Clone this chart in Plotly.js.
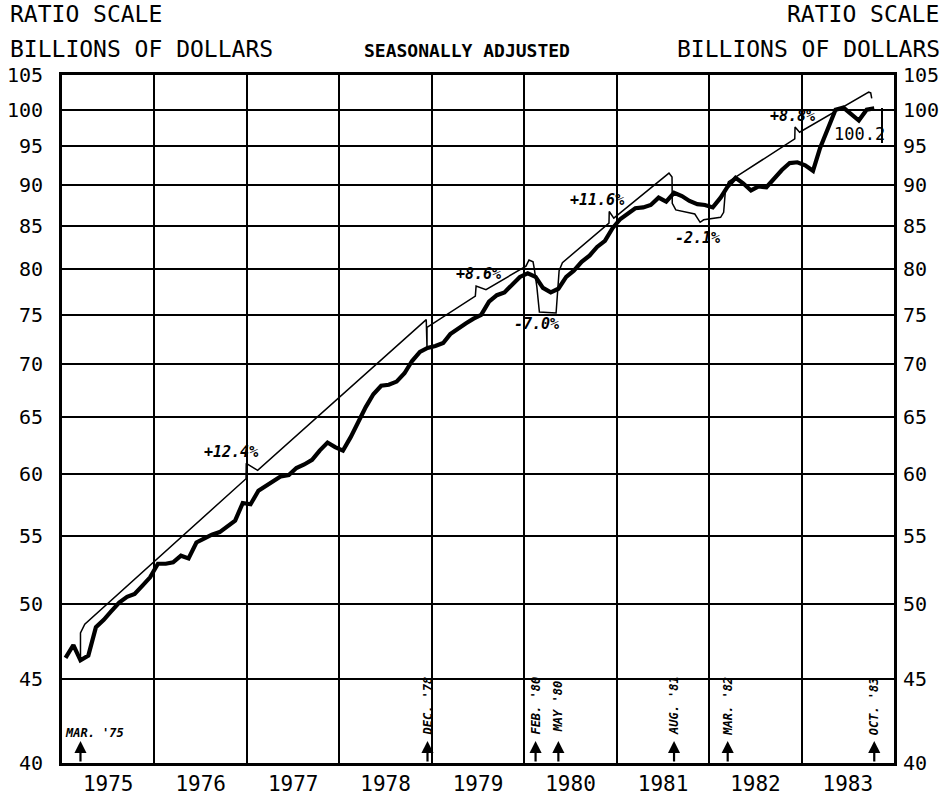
<!DOCTYPE html>
<html>
<head>
<meta charset="utf-8">
<script src="https://cdn.plot.ly/plotly-3.0.1.min.js"></script>
<style>
  html, body { margin: 0; padding: 0; background: #fff; }
  #chart { width: 945px; height: 800px; }
</style>
</head>
<body>
<div id="chart"></div>
<script>
// ---------- DATA ----------
// Monthly series (mid-month), Jan 1975 .. Oct 1983, billions of dollars
const startYear = 1975;
const thickValues = [
  46.35, 47.2, 46.2, 46.5, 48.4, 48.9, 49.5, 50.1, 50.5, 50.7, 51.3, 51.9,   // 1975
  52.9, 52.9, 53.0, 53.5, 53.3, 54.5, 54.8, 55.1, 55.3, 55.7, 56.2, 57.6,    // 1976
  57.5, 58.6, 59.0, 59.4, 59.8, 59.9, 60.5, 60.8, 61.2, 62.0, 62.7, 62.3,    // 1977
  62.0, 63.2, 64.5, 65.9, 67.1, 67.9, 68.0, 68.3, 69.1, 70.3, 71.2, 71.6,    // 1978
  71.8, 72.1, 73.0, 73.6, 74.1, 74.6, 75.0, 76.4, 77.1, 77.4, 78.2, 79.1,    // 1979
  79.5, 79.1, 77.9, 77.4, 77.8, 79.1, 79.8, 80.8, 81.5, 82.5, 83.2, 84.7,    // 1980
  85.8, 86.5, 87.1, 87.2, 87.5, 88.4, 87.9, 89.0, 88.6, 88.0, 87.6, 87.5,    // 1981
  87.2, 88.4, 89.8, 90.9, 90.2, 89.3, 89.8, 89.7, 90.9, 91.9, 92.8, 92.9,    // 1982
  92.5, 91.8, 94.8, 97.5, 100.0, 100.3, 99.5, 98.5, 100.0, 100.2             // 1983
];

// Thin trend line between turning points (with label pointer notches)
const thinDates = [
  "1975-03-15", "1975-03-15", "1975-04-01",
  "1976-12-28", "1976-12-29", "1977-02-12",
  "1978-12-10", "1978-12-13", "1978-12-13",
  "1979-06-22", "1979-06-25", "1979-08-03",
  "1980-01-08", "1980-01-20", "1980-02-05", "1980-02-10", "1980-02-20", "1980-03-01",
  "1980-05-06", "1980-05-18", "1980-05-31",
  "1980-12-01", "1980-12-02", "1980-12-20",
  "1981-07-26", "1981-08-07", "1981-08-08",
  "1981-08-22", "1981-11-05", "1981-11-26", "1981-12-10", "1982-02-15", "1982-02-27", "1982-03-06", "1982-03-18",
  "1982-12-05", "1982-12-06", "1982-12-24",
  "1983-09-23", "1983-10-01", "1983-10-05"
];
const thinValues = [
  46.2, 48.0, 48.6,
  59.6, 60.9, 60.3,
  74.5, 71.7, 73.7,
  77.0, 78.1, 77.7,
  80.3, 81.0, 80.8, 80.0, 78.0, 75.3,
  75.2, 79.8, 80.7,
  85.3, 86.7, 85.9,
  91.5, 91.0, 87.7,
  86.9, 86.4, 85.4, 85.7, 86.0, 86.6, 89.3, 90.4,
  96.0, 97.6, 96.9,
  102.5, 102.4, 101.6
];

const yTicks = [40, 45, 50, 55, 60, 65, 70, 75, 80, 85, 90, 95, 100, 105];

const rateLabels = ["+12.4%", "+8.6%", "-7.0%", "+11.6%", "-2.1%", "+8.8%"];
const turnDates = ["1978-12-15", "1980-02-15", "1980-05-15", "1981-08-15", "1982-03-15", "1983-10-15"];
const turnLabels = ["DEC. '78", "FEB. '80", "MAY '80", "AUG. '81", "MAR. '82", "OCT. '83"];
const firstDate = "1975-03-15";
const firstLabel = "MAR. '75";
const lastValueLabel = "100.2";

// ---------- BUILD ----------
function pad(n) { return n < 10 ? "0" + n : "" + n; }
const thickDates = thickValues.map((v, i) => {
  const y = startYear + Math.floor(i / 12);
  const m = (i % 12) + 1;
  return y + "-" + pad(m) + "-15";
});

const MONO = "DejaVu Sans Mono, Liberation Mono, monospace";

const traces = [
  {
    x: thinDates, y: thinValues, type: "scatter", mode: "lines",
    line: { color: "#000", width: 1.5 }, hoverinfo: "skip", showlegend: false
  },
  {
    x: thickDates, y: thickValues, type: "scatter", mode: "lines",
    line: { color: "#000", width: 4.2 }, hoverinfo: "skip", showlegend: false
  },
  {
    x: [thickDates[0]], y: [thickValues[0]], yaxis: "y2", type: "scatter", mode: "markers",
    marker: { opacity: 0 }, hoverinfo: "skip", showlegend: false
  }
];

const yaxisBase = {
  type: "log",
  range: [Math.log10(40), Math.log10(105)],
  tickmode: "array",
  tickvals: yTicks,
  ticktext: yTicks.map(String),
  ticks: "",
  tickfont: { family: MONO, size: 20, color: "#000" },
  zeroline: false,
  fixedrange: true
};

// paper-coordinate helpers (plot area: x 62..894, y 75..763 px)
const L = 62, R = 894, T = 75, B = 763;
const px = x => (x - L) / (R - L);
const py = y => (B - y) / (B - T);

const annotations = [];
function txt(text, x, y, opts) {
  annotations.push(Object.assign({
    text: text, xref: "paper", yref: "paper", x: px(x), y: py(y),
    showarrow: false, xanchor: "center", yanchor: "middle",
    font: { family: MONO, size: 20, color: "#000" }
  }, opts || {}));
}

txt("RATIO SCALE", 8, 14, { xanchor: "left", font: { family: MONO, size: 23, color: "#000" } });
txt("BILLIONS OF DOLLARS", 8, 49, { xanchor: "left", font: { family: MONO, size: 23, color: "#000" } });
txt("RATIO SCALE", 941, 14, { xanchor: "right", font: { family: MONO, size: 23, color: "#000" } });
txt("BILLIONS OF DOLLARS", 942, 49, { xanchor: "right", font: { family: MONO, size: 23, color: "#000" } });
txt("SEASONALLY ADJUSTED", 467, 51, { font: { family: MONO, size: 18, color: "#000", weight: "bold" } });

// growth-rate labels
const rateFont = { family: MONO, size: 15, color: "#000", style: "italic", weight: "bold" };
const ratePos = [[231, 452], [478, 274], [536, 324], [597, 200], [697, 238], [792, 116]];
rateLabels.forEach((t, i) => txt(t, ratePos[i][0], ratePos[i][1], { font: rateFont }));

// last value label
txt(lastValueLabel, 859, 134, { font: { family: MONO, size: 17, color: "#000" } });

// turning-point arrows and labels
const arrowFont = { family: MONO, size: 12, color: "#000", style: "italic", weight: "bold" };
[firstDate].concat(turnDates).forEach(d => {
  annotations.push({
    text: "", xref: "x", yref: "paper", x: d, y: py(741),
    showarrow: true, ax: 0, ay: 22, arrowhead: 2, arrowsize: 1.1, arrowwidth: 2.2, arrowcolor: "#000"
  });
});
annotations.push({
  text: firstLabel, xref: "paper", yref: "paper", x: px(63), y: py(733),
  xanchor: "left", yanchor: "middle", showarrow: false, font: arrowFont
});
turnDates.forEach((d, i) => {
  annotations.push({
    text: turnLabels[i], xref: "x", yref: "paper", x: d, y: py(706),
    xanchor: "center", yanchor: "middle", textangle: -90, showarrow: false, font: arrowFont
  });
});

const layout = {
  width: 945, height: 800,
  margin: { l: L, r: 945 - R, t: T, b: 800 - B, pad: 0 },
  paper_bgcolor: "#fff", plot_bgcolor: "#fff",
  showlegend: false,
  xaxis: {
    type: "date",
    range: ["1975-01-01", "1984-01-01"],
    tick0: "1975-01-01", dtick: "M12",
    tickformat: "%Y", ticklabelmode: "period",
    ticks: "",
    showgrid: true, gridcolor: "#000", gridwidth: 2,
    showline: true, linecolor: "#000", linewidth: 3, mirror: true,
    zeroline: false,
    tickfont: { family: MONO, size: 21, color: "#000" },
    fixedrange: true
  },
  yaxis: Object.assign({}, yaxisBase, {
    side: "left",
    showgrid: true, gridcolor: "#000", gridwidth: 2,
    showline: true, linecolor: "#000", linewidth: 3, mirror: true,
    ticklabelstandoff: 12
  }),
  yaxis2: Object.assign({}, yaxisBase, {
    side: "right", overlaying: "y",
    showgrid: false, showline: false,
    ticklabelstandoff: 8
  }),
  shapes: [
    { type: "line", xref: "paper", yref: "paper", x0: px(882), x1: px(882), y0: py(108), y1: py(143),
      line: { color: "#000", width: 2 } }
  ],
  annotations: annotations
};

Plotly.newPlot("chart", traces, layout, { staticPlot: true, displayModeBar: false });
</script>
</body>
</html>
